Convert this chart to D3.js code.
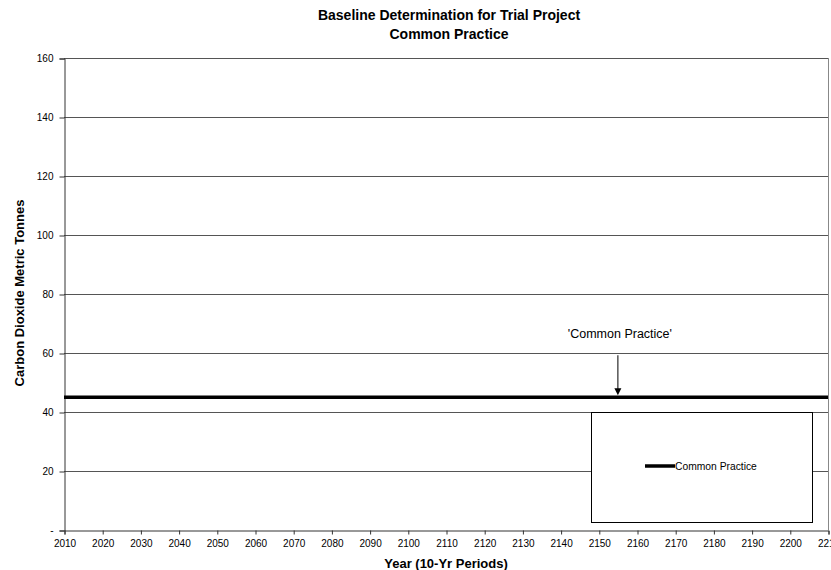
<!DOCTYPE html>
<html>
<head>
<meta charset="utf-8">
<script src="https://cdn.jsdelivr.net/npm/d3@7"></script>
<style>
  html, body { margin: 0; padding: 0; background: #fff; }
  svg { display: block; font-family: "Liberation Sans", Arial, sans-serif; }
</style>
</head>
<body>
<svg id="chart" width="831" height="570"></svg>
<script>
// Decade periods and the flat baseline value for each
const years = [2010, 2020, 2030, 2040, 2050, 2060, 2070, 2080, 2090, 2100,
               2110, 2120, 2130, 2140, 2150, 2160, 2170, 2180, 2190, 2200, 2210];
const commonPractice = [45, 45, 45, 45, 45, 45, 45, 45, 45, 45,
                        45, 45, 45, 45, 45, 45, 45, 45, 45, 45, 45];
const yTicks = [0, 20, 40, 60, 80, 100, 120, 140, 160];
const annotationYear = 2155;

const svg = d3.select("#chart");
const plotLeft = 64, plotRight = 828, plotTop = 58, plotBottom = 530;

const x = d3.scaleLinear().domain([2010, 2210]).range([plotLeft, plotRight]);
const y = d3.scaleLinear().domain([0, 160]).range([plotBottom, plotTop]);

// Horizontal gridlines
svg.append("g")
  .selectAll("line")
  .data(yTicks.filter(d => d > 0))
  .join("line")
  .attr("x1", plotLeft).attr("x2", plotRight)
  .attr("y1", d => Math.round(y(d)) + 0.5).attr("y2", d => Math.round(y(d)) + 0.5)
  .attr("stroke", "#555").attr("stroke-width", 1);

// Right edge of plot area
svg.append("line")
  .attr("x1", plotRight + 0.5).attr("x2", plotRight + 0.5)
  .attr("y1", plotTop).attr("y2", plotBottom)
  .attr("stroke", "#888");

// Y axis
const yAxis = d3.axisLeft(y).tickValues(yTicks).tickSize(5).tickPadding(6)
  .tickFormat(d => d === 0 ? "-" : d);
const gy = svg.append("g").attr("transform", `translate(${plotLeft + 0.5},0.5)`).call(yAxis);
gy.select(".domain").attr("stroke", "#333");
gy.selectAll(".tick line").attr("stroke", "#333");
gy.selectAll("text").attr("font-size", 10).attr("fill", "#000")
  .attr("font-family", "Liberation Sans, Arial, sans-serif");

// X axis
const xAxis = d3.axisBottom(x).tickValues(years).tickSize(4).tickPadding(5)
  .tickFormat(d3.format("d"));
const gx = svg.append("g").attr("transform", `translate(0.5,${plotBottom + 0.5})`).call(xAxis);
gx.select(".domain").attr("stroke", "#333");
gx.selectAll(".tick line").attr("stroke", "#333");
gx.selectAll("text").attr("font-size", 10).attr("fill", "#000")
  .attr("font-family", "Liberation Sans, Arial, sans-serif");

// Baseline series
const line = d3.line().x((d, i) => x(years[i])).y(d => y(d));
svg.append("path")
  .datum(commonPractice)
  .attr("d", line)
  .attr("fill", "none")
  .attr("stroke", "#000")
  .attr("stroke-width", 3.5);

// Callout arrow and label
const ax = x(annotationYear);
const ay = y(commonPractice[0]);
svg.append("line")
  .attr("x1", ax).attr("x2", ax)
  .attr("y1", ay - 42).attr("y2", ay - 8)
  .attr("stroke", "#000").attr("stroke-width", 1);
svg.append("path")
  .attr("d", `M${ax - 3.5},${ay - 9} L${ax + 3.5},${ay - 9} L${ax},${ay - 2} Z`)
  .attr("fill", "#000");
svg.append("text")
  .attr("x", ax + 2).attr("y", ay - 59)
  .attr("text-anchor", "middle")
  .attr("font-size", 12.5)
  .text("'Common Practice'");

// Legend
const lg = svg.append("g");
lg.append("rect")
  .attr("x", 591.5).attr("y", 412.5).attr("width", 221).attr("height", 110)
  .attr("fill", "#fff").attr("stroke", "#000").attr("stroke-width", 1);
lg.append("line")
  .attr("x1", 645).attr("x2", 675).attr("y1", 466).attr("y2", 466)
  .attr("stroke", "#000").attr("stroke-width", 3.5);
lg.append("text")
  .attr("x", 675).attr("y", 469.5)
  .attr("font-size", 10.3)
  .text("Common Practice");

// Titles
svg.append("text")
  .attr("x", 449).attr("y", 19.5)
  .attr("text-anchor", "middle").attr("font-weight", "bold").attr("font-size", 14)
  .text("Baseline Determination for Trial Project");
svg.append("text")
  .attr("x", 449).attr("y", 38.5)
  .attr("text-anchor", "middle").attr("font-weight", "bold").attr("font-size", 14)
  .text("Common Practice");

svg.append("text")
  .attr("x", 446).attr("y", 568)
  .attr("text-anchor", "middle").attr("font-weight", "bold").attr("font-size", 13)
  .text("Year (10-Yr Periods)");

svg.append("text")
  .attr("transform", "translate(23.5,293) rotate(-90)")
  .attr("text-anchor", "middle").attr("font-weight", "bold").attr("font-size", 13)
  .text("Carbon Dioxide Metric Tonnes");
</script>
</body>
</html>
